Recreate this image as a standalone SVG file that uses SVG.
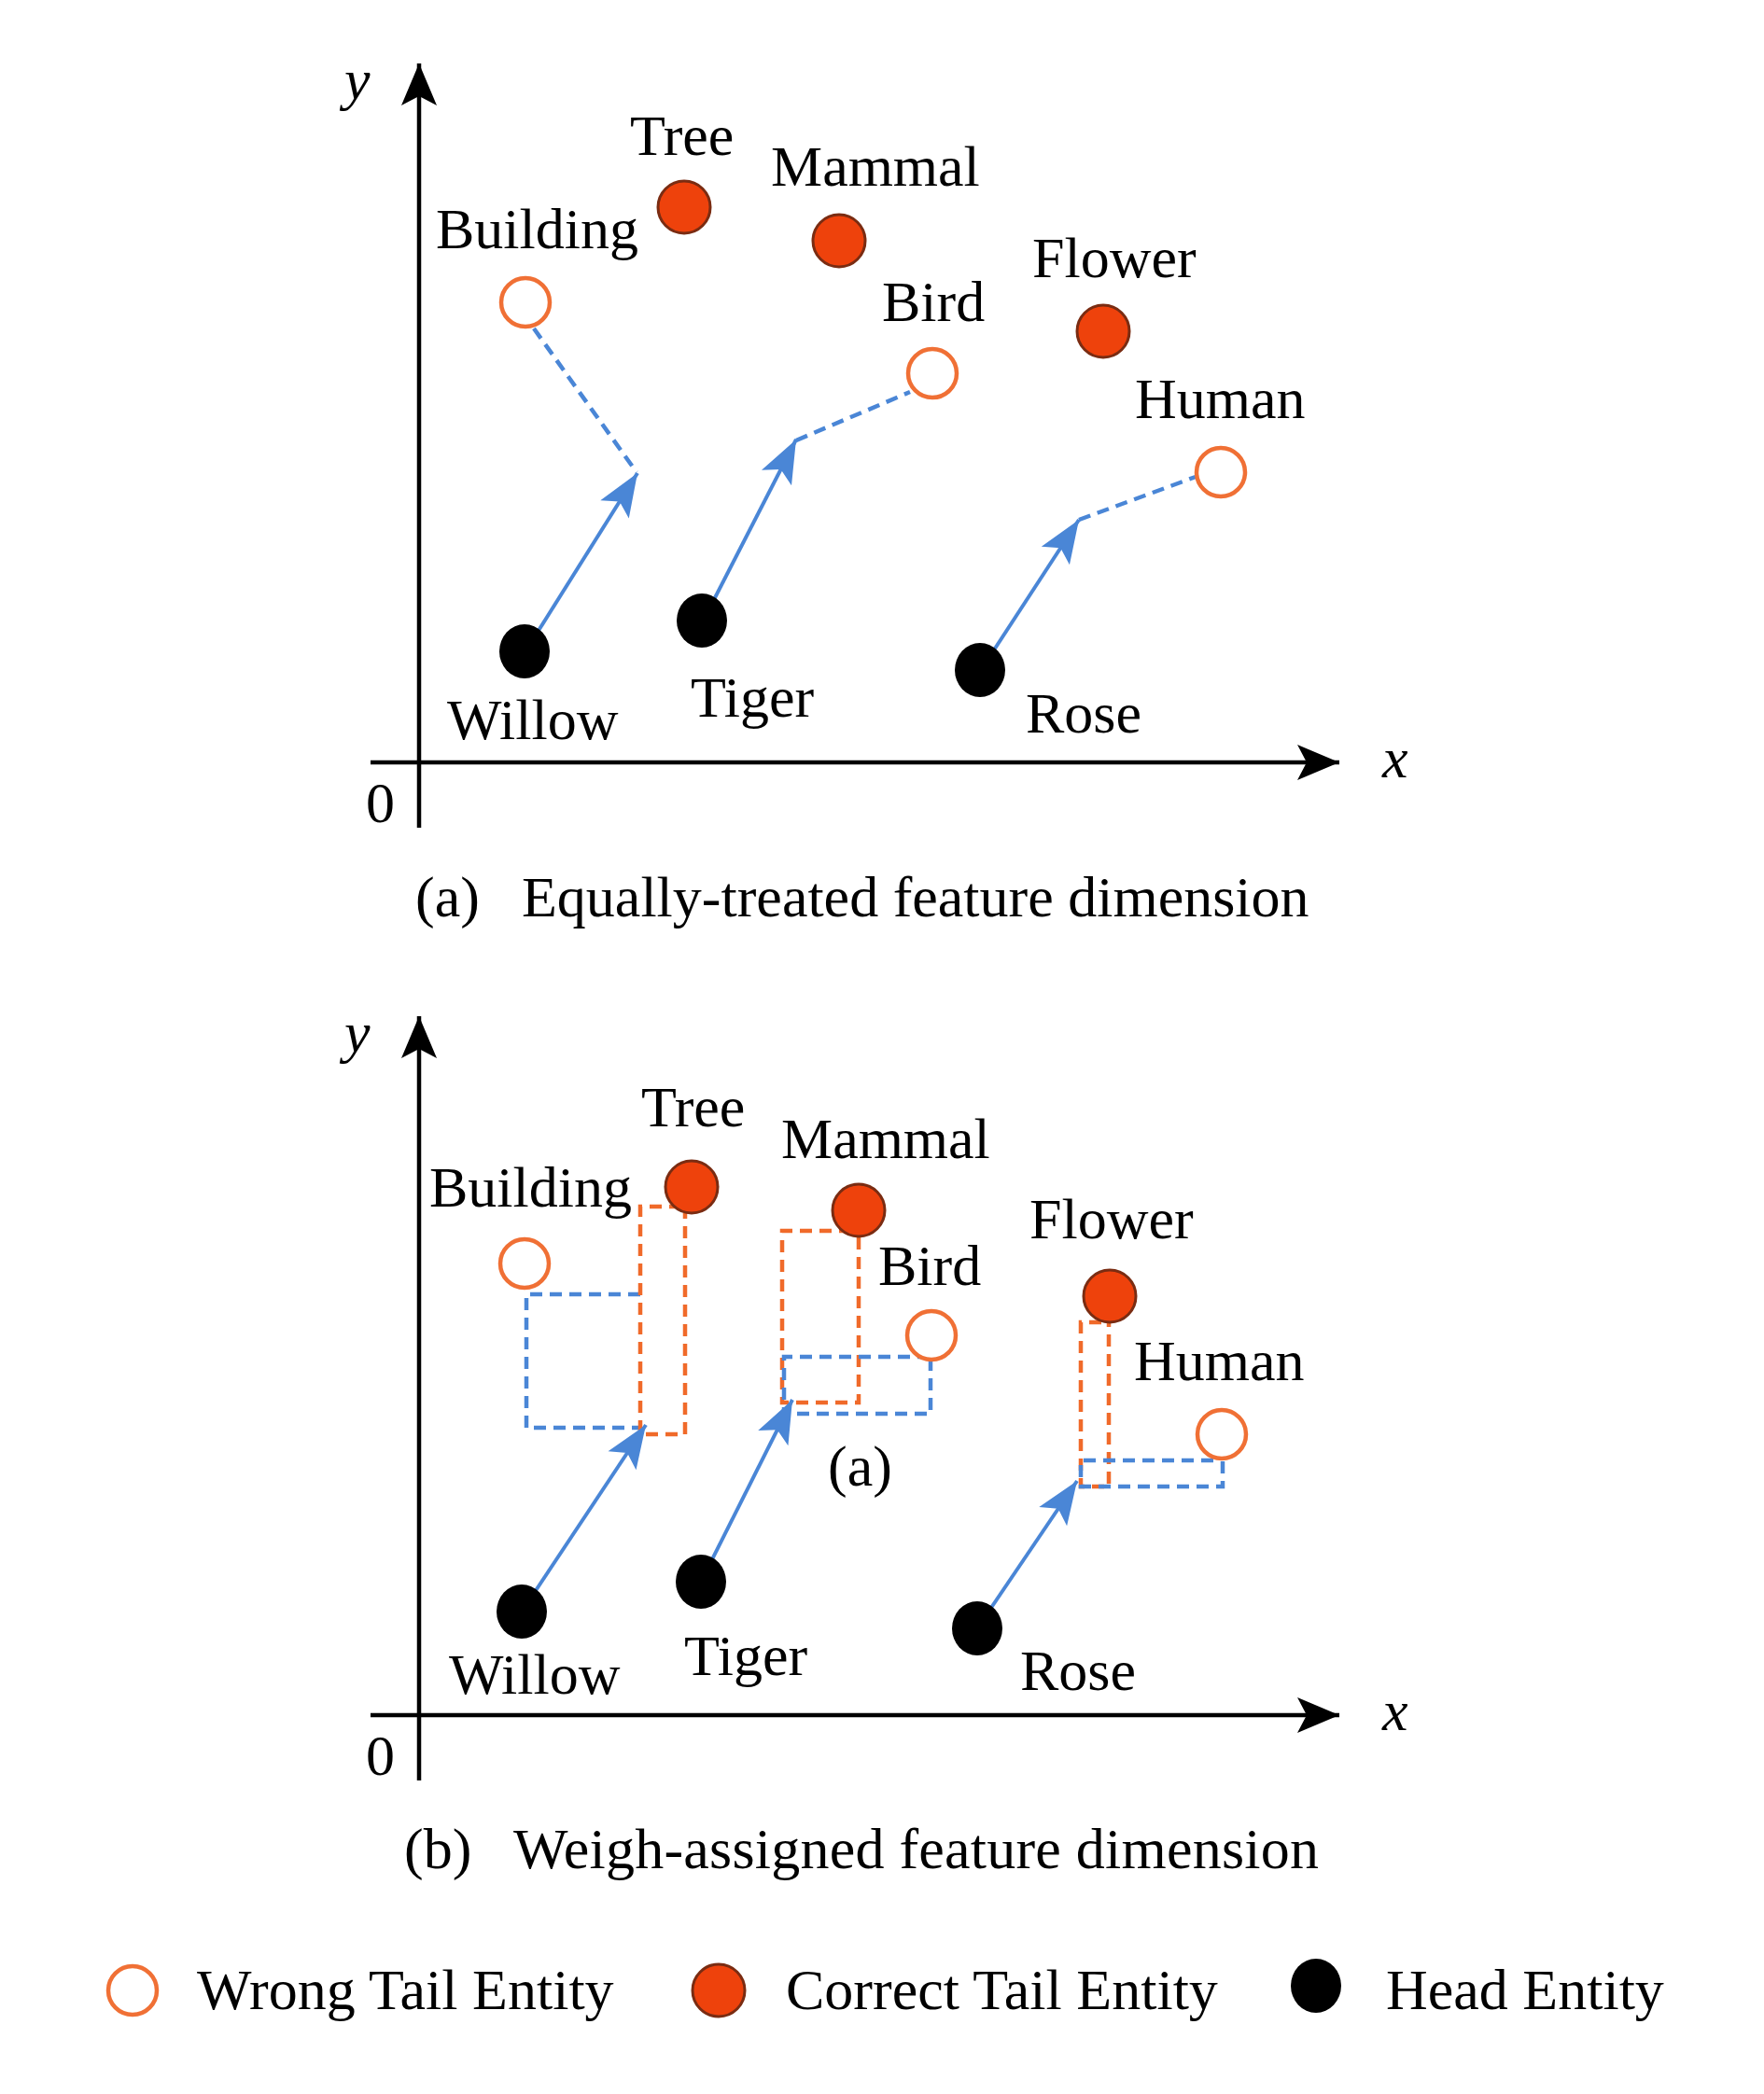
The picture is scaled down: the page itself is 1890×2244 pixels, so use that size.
<svg xmlns="http://www.w3.org/2000/svg" width="1890" height="2244" viewBox="0 0 1890 2244">
<style>
text{font-family:"Liberation Serif","Times New Roman",serif;font-size:62px;fill:#000}
.it{font-style:italic}
.axis{stroke:#000;stroke-width:4.5;fill:none}
.vec{stroke:#4A86D6;stroke-width:4;fill:none}
.bd{stroke:#4A86D6;stroke-width:4.5;fill:none;stroke-dasharray:13 8}
.od{stroke:#F06A2A;stroke-width:4.5;fill:none;stroke-dasharray:13 8}
.wrong{fill:#fff;stroke:#F07035;stroke-width:4.5}
.correct{fill:#EE420C;stroke:#7A2C12;stroke-width:3}
.head{fill:#000}
</style>
<defs>
<marker id="ah" markerUnits="userSpaceOnUse" markerWidth="60" markerHeight="60" viewBox="-50 -25 60 50" refX="0" refY="0" orient="auto">
<path d="M0,0 L-46,-18 L-36,0 L-46,18 Z" fill="#4A86D6"/>
</marker>
<marker id="axh" markerUnits="userSpaceOnUse" markerWidth="60" markerHeight="60" viewBox="-50 -25 60 50" refX="0" refY="0" orient="auto">
<path d="M0,0 L-45,-19 L-35,0 L-45,19 Z" fill="#000"/>
</marker>
</defs>

<!-- Panel (a) -->
<g id="axes-a">
<line class="axis" x1="449" y1="887" x2="449" y2="68" marker-end="url(#axh)"/>
<line class="axis" x1="397" y1="817" x2="1435" y2="817" marker-end="url(#axh)"/>
<text class="it" x="369" y="106">y</text>
<text class="it" x="1481" y="833">x</text>
<text x="392" y="881">0</text>
</g>
<g id="connectors-a">
<line class="bd" x1="572" y1="352" x2="682" y2="506"/>
<line class="bd" x1="853" y1="472" x2="975" y2="420"/>
<line class="bd" x1="1156" y1="557" x2="1281" y2="511"/>
<line class="vec" x1="563" y1="698" x2="683" y2="507" marker-end="url(#ah)"/>
<line class="vec" x1="753" y1="666" x2="853" y2="471" marker-end="url(#ah)"/>
<line class="vec" x1="1051" y1="718" x2="1156" y2="557" marker-end="url(#ah)"/>
</g>
<g id="a-tree"><circle class="correct" cx="733" cy="222" r="28"/><text x="675" y="166">Tree</text></g>
<g id="a-mammal"><circle class="correct" cx="899" cy="258" r="28"/><text x="826" y="199">Mammal</text></g>
<g id="a-building"><circle class="wrong" cx="563" cy="324" r="26"/><text x="467" y="266">Building</text></g>
<g id="a-bird"><circle class="wrong" cx="999" cy="400" r="26"/><text x="945" y="344">Bird</text></g>
<g id="a-flower"><circle class="correct" cx="1182" cy="355" r="28"/><text x="1106" y="297">Flower</text></g>
<g id="a-human"><circle class="wrong" cx="1308" cy="506" r="26"/><text x="1216" y="448">Human</text></g>
<g id="a-willow"><ellipse class="head" cx="562" cy="698" rx="27" ry="29"/><text x="479" y="792">Willow</text></g>
<g id="a-tiger"><ellipse class="head" cx="752" cy="665" rx="27" ry="29"/><text x="740" y="768">Tiger</text></g>
<g id="a-rose"><ellipse class="head" cx="1050" cy="718" rx="27" ry="29"/><text x="1099" y="785">Rose</text></g>
<g id="caption-a"><text x="445" y="982">(a)</text><text x="559" y="982">Equally-treated feature dimension</text></g>

<!-- Panel (b) -->
<g id="axes-b">
<line class="axis" x1="449" y1="1908" x2="449" y2="1089" marker-end="url(#axh)"/>
<line class="axis" x1="397" y1="1838" x2="1435" y2="1838" marker-end="url(#axh)"/>
<text class="it" x="369" y="1127">y</text>
<text class="it" x="1481" y="1854">x</text>
<text x="392" y="1902">0</text>
</g>
<g id="connectors-b">
<path class="bd" d="M686,1387 H564 V1530 H686"/>
<path class="od" d="M730,1293 H686 V1537 H734 V1300"/>
<path class="od" d="M912,1319 H838 V1503 H920 V1322"/>
<path class="bd" d="M997,1456 V1515 H840 V1454 H990"/>
<path class="od" d="M1180,1417 H1158 V1593 H1188 V1418"/>
<path class="bd" d="M1300,1565 H1158 V1593 H1310 V1562"/>
<line class="vec" x1="559" y1="1727" x2="692" y2="1527" marker-end="url(#ah)"/>
<line class="vec" x1="751" y1="1695" x2="849" y2="1500" marker-end="url(#ah)"/>
<line class="vec" x1="1047" y1="1745" x2="1154" y2="1587" marker-end="url(#ah)"/>
</g>
<g id="b-tree"><circle class="correct" cx="741" cy="1272" r="28"/><text x="687" y="1207">Tree</text></g>
<g id="b-mammal"><circle class="correct" cx="920" cy="1297" r="28"/><text x="837" y="1241">Mammal</text></g>
<g id="b-building"><circle class="wrong" cx="562" cy="1354" r="26"/><text x="460" y="1293">Building</text></g>
<g id="b-bird"><circle class="wrong" cx="998" cy="1431" r="26"/><text x="941" y="1377">Bird</text></g>
<g id="b-flower"><circle class="correct" cx="1189" cy="1389" r="28"/><text x="1103" y="1327">Flower</text></g>
<g id="b-human"><circle class="wrong" cx="1309" cy="1537" r="26"/><text x="1215" y="1479">Human</text></g>
<g id="b-willow"><ellipse class="head" cx="559" cy="1727" rx="27" ry="29"/><text x="481" y="1815">Willow</text></g>
<g id="b-tiger"><ellipse class="head" cx="751" cy="1695" rx="27" ry="29"/><text x="733" y="1795">Tiger</text></g>
<g id="b-rose"><ellipse class="head" cx="1047" cy="1745" rx="27" ry="29"/><text x="1093" y="1811">Rose</text></g>
<g id="b-label"><text x="887" y="1592">(a)</text></g>
<g id="caption-b"><text x="433" y="2002">(b)</text><text x="550" y="2002" textLength="863" lengthAdjust="spacing">Weigh-assigned feature dimension</text></g>

<!-- Legend -->
<g id="legend-wrong"><circle class="wrong" cx="142" cy="2133" r="26"/><text x="211" y="2153">Wrong Tail Entity</text></g>
<g id="legend-correct"><circle class="correct" cx="770" cy="2133" r="28"/><text x="842" y="2153">Correct Tail Entity</text></g>
<g id="legend-head"><ellipse class="head" cx="1410" cy="2128" rx="27" ry="29"/><text x="1485" y="2153">Head Entity</text></g>
</svg>
